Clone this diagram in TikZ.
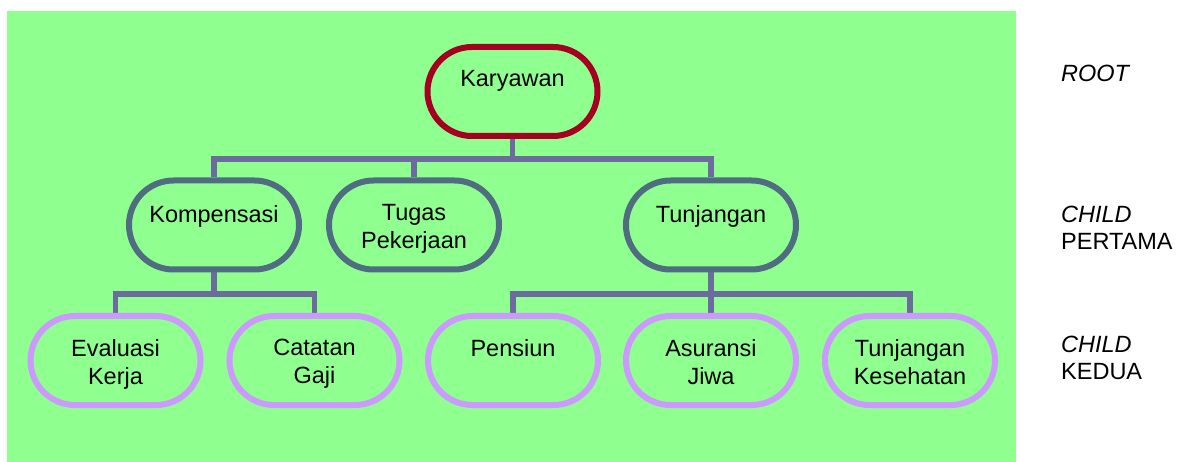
\documentclass[tikz,border=0pt]{standalone}
\usepackage{fontspec}
\setmainfont{Liberation Sans}
\usetikzlibrary{backgrounds}
\definecolor{bg}{HTML}{8FFF8F}
\definecolor{rootc}{HTML}{A50021}
\definecolor{lvone}{HTML}{4F6C80}
\definecolor{lvtwo}{HTML}{CC99FF}
\definecolor{connc}{HTML}{6B6B9E}
\begin{document}
\begin{tikzpicture}[x=1pt,y=-1pt,
  box/.style={rectangle, rounded corners=44.5pt, line width=6pt, minimum width=170pt, minimum height=89pt, inner sep=0pt, fill=bg},
  rootbox/.style={box, draw=rootc},
  onebox/.style={box, draw=lvone},
  twobox/.style={box, draw=lvtwo},
  txt/.style={font=\fontsize{23.5}{28}\selectfont, align=center, inner sep=0pt, anchor=north},
  side/.style={font=\fontsize{23.5}{27}\selectfont, align=left, inner sep=0pt, anchor=north west},
  conn/.style={draw=connc, line width=5.5pt}]
\useasboundingbox (0,0) rectangle (1184,462);

% nodes
\node[rootbox] (root) at (512.5,91.5) {};
\node[onebox] (komp) at (214,225) {};
\node[onebox] (tug) at (414,225) {};
\node[onebox] (tun) at (711,225) {};
\node[twobox] (eval) at (115.5,360.5) {};
\node[twobox] (cat) at (314.5,360.5) {};
\node[twobox] (pens) at (513,360.5) {};
\node[twobox] (asur) at (711,360.5) {};
\node[twobox] (kes) at (910,360.5) {};

% texts
\node[txt] (rootT) at (512.5,70) {Karyawan};
\node[txt] (kompT) at (214,205) {Kompensasi};
\node[txt] (tugT) at (414,204) {Tugas\\Pekerjaan};
\node[txt] (tunT) at (711,205) {Tunjangan};
\node[txt] (evalT) at (115.5,339) {Evaluasi\\Kerja};
\node[txt] (catT) at (314.5,339) {Catatan\\Gaji};
\node[txt] (pensT) at (513,339) {Pensiun};
\node[txt] (asurT) at (711,339) {Asuransi\\Jiwa};
\node[txt] (kesT) at (910,339) {Tunjangan\\Kesehatan};

% side labels
\node[side] (l0) at (1061,65) {\itshape ROOT};
\node[side] (l1) at (1061,206) {\itshape CHILD\\PERTAMA};
\node[side] (l2) at (1061,336) {\itshape CHILD\\KEDUA};

\coordinate (b1) at (0,159);
\coordinate (b2) at (0,294);

\begin{scope}[on background layer]
  \fill[bg] (7,11) rectangle (1016,462);
  \draw[conn] (root.south) -- (root.south |- b1);
  \draw[conn] (komp.north) |- (root.south |- b1) -| (tun.north);
  \draw[conn] (tug.north) -- (tug.north |- b1);
  \draw[conn] (komp.south) -- (komp.south |- b2);
  \draw[conn] (eval.north) |- (komp.south |- b2) -| (cat.north);
  \draw[conn] (tun.south) -- (tun.south |- b2);
  \draw[conn] (pens.north) |- (tun.south |- b2) -| (kes.north);
  \draw[conn] (asur.north) -- (asur.north |- b2);
\end{scope}
\end{tikzpicture}
\end{document}
